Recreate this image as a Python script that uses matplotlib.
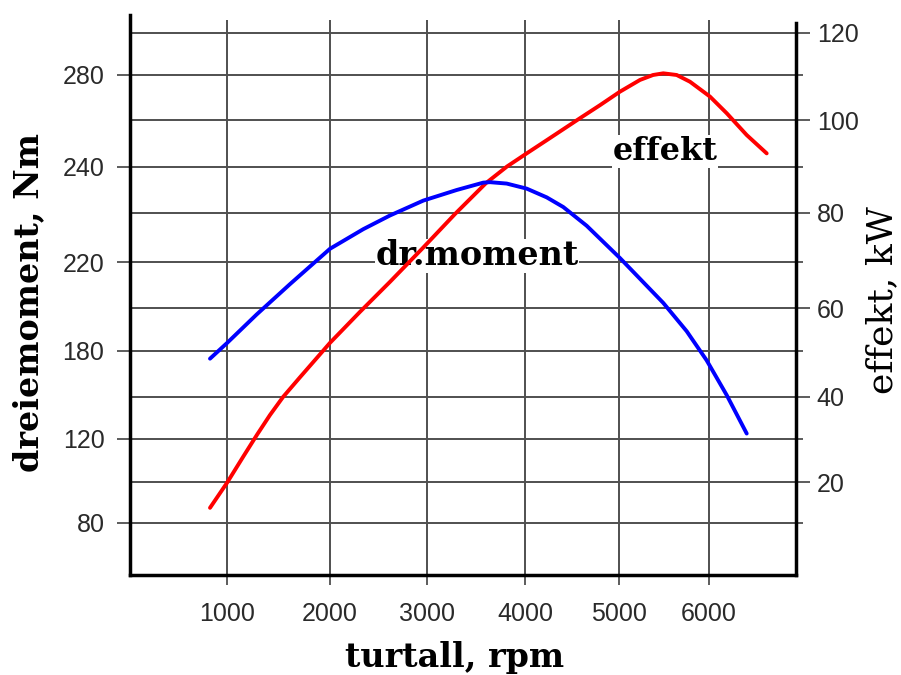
import numpy as np
import matplotlib
matplotlib.use("Agg")
import matplotlib.pyplot as plt

plt.rcParams["font.family"] = ["Liberation Sans", "DejaVu Sans"]

# ---------------- data ----------------
rpm_torque = [835, 1000, 1288, 1612, 2000, 2343, 2619, 2962, 3303, 3574, 3643,
              3813, 4018, 4231, 4407, 4656, 5011, 5233, 5492, 5752, 5974,
              6197, 6419]
torque_nm = [175.0, 183.7, 197.0, 210.4, 222.7, 226.7, 229.5, 232.7, 235.0,
             236.6, 236.7, 236.4, 235.3, 233.4, 231.3, 227.4, 220.8, 212.7,
             202.2, 189.2, 173.9, 151.2, 123.9]

rpm_power = [835, 1000, 1155, 1291, 1417, 1544, 1709, 2000, 2309, 2619, 2959,
             3286, 3602, 3816, 4018, 4231, 4585, 4798, 5011, 5233, 5378, 5492,
             5641, 5789, 6011, 6197, 6419, 6641]
power_kw = [13.7, 19.8, 25.8, 31.0, 35.7, 40.0, 44.3, 51.9, 59.1, 65.7, 72.9,
            79.8, 86.5, 90.1, 92.9, 95.7, 100.4, 103.3, 106.3, 108.9, 110.0,
            110.4, 110.0, 108.5, 105.2, 101.5, 96.8, 92.9]

rpm_ticks = [1000, 2000, 3000, 4000, 5000, 6000]
kw_ticks = [20, 40, 60, 80, 100, 120]
kw_minor = [10, 30, 50, 70, 90, 110]
nm_ticks = [80, 120, 180, 220, 240, 280]
nm_rows_kw = [10, 30, 50, 70, 90, 110]       # grid row each Nm label sits on

# ---------------- layout (pixel calibration of the drawing) ----------------
W, H = 901, 675
L, R, B, T = 130, 796, 575, 20
X_GRID_PX = [227, 330, 427, 525, 619, 709]
KW_ROWS = [120, 110, 100, 90, 80, 70, 60, 50, 40, 30, 20, 10]
Y_ROWS_PX = [33, 75, 120, 167, 213, 262, 308, 351, 397, 439, 482, 523]

GRID = "#4f4f4f"
TXT = "#2a2a2a"


def piecewise(xk, yk):
    xk = np.asarray(xk, float)
    yk = np.asarray(yk, float)
    o = np.argsort(xk)
    xk, yk = xk[o], yk[o]
    s0 = (yk[1] - yk[0]) / (xk[1] - xk[0])
    s1 = (yk[-1] - yk[-2]) / (xk[-1] - xk[-2])

    def f(v):
        v = np.asarray(v, float)
        out = np.interp(v, xk, yk)
        out = np.where(v < xk[0], yk[0] + (v - xk[0]) * s0, out)
        out = np.where(v > xk[-1], yk[-1] + (v - xk[-1]) * s1, out)
        return out
    return f


xfwd = piecewise(rpm_ticks, X_GRID_PX)
xinv = piecewise(X_GRID_PX, rpm_ticks)
ypx = -np.asarray(Y_ROWS_PX, float)
kwfwd = piecewise(KW_ROWS, ypx)
kwinv = piecewise(ypx, KW_ROWS)
nm2kw = piecewise(nm_ticks, nm_rows_kw)
kw2nm = piecewise(nm_rows_kw, nm_ticks)


def tfwd(v):
    return kwfwd(nm2kw(v))


def tinv(u):
    return kw2nm(kwinv(u))


fig = plt.figure(figsize=(W / 100, H / 100), dpi=100)
ax_p = fig.add_axes([L / W, (H - B) / H, (R - L) / W, (B - T) / H])
ax_t = ax_p.twinx()

ax_p.set_xscale("function", functions=(xfwd, xinv))
ax_p.set_xlim(float(xinv(L)), float(xinv(R)))
ax_p.set_yscale("function", functions=(kwfwd, kwinv))
ax_p.set_ylim(float(kwinv(-B)), float(kwinv(-T)))
ax_t.set_yscale("function", functions=(tfwd, tinv))
ax_t.set_ylim(float(tinv(-B)), float(tinv(-T)))

ax_p.set_xticks(rpm_ticks, labels=[str(v) for v in rpm_ticks])
ax_p.set_yticks(kw_ticks, labels=[str(v) for v in kw_ticks])
ax_p.set_yticks(kw_minor, minor=True)
ax_p.set_xticks([], minor=True)
ax_t.set_yticks(nm_ticks, labels=[str(v) for v in nm_ticks])
ax_t.set_yticks([], minor=True)

ax_p.yaxis.tick_right()
ax_p.tick_params(axis="x", which="major", length=7.2, width=1.3, color=GRID, pad=12,
                 labelsize=18, labelcolor=TXT)
ax_p.tick_params(axis="y", which="major", length=10, width=1.3, color=GRID, pad=5,
                 right=True, left=False, labelright=True, labelleft=False,
                 labelsize=18, labelcolor=TXT)
ax_p.tick_params(axis="y", which="minor", length=5, width=1.3, color=GRID,
                 right=True, left=False)
ax_t.yaxis.tick_left()
ax_t.tick_params(axis="y", which="major", length=9.4, width=1.3, color=GRID, pad=9,
                 left=True, right=False, labelleft=True, labelright=False,
                 labelsize=18, labelcolor=TXT)

ax_p.set_axisbelow(True)
ax_p.grid(True, which="major", axis="x", color=GRID, lw=1.4)
ax_p.grid(True, which="both", axis="y", color=GRID, lw=1.4)

for s in ("top", "left"):
    ax_p.spines[s].set_visible(False)
for s in ("top", "right", "bottom"):
    ax_t.spines[s].set_visible(False)
ax_p.spines["bottom"].set_linewidth(2.5)
ax_p.spines["right"].set_linewidth(2.5)
ax_t.spines["left"].set_linewidth(2.5)
ax_p.spines["right"].set_bounds(float(kwinv(-B)), float(kwinv(-23)))
ax_t.spines["left"].set_bounds(float(tinv(-B)), float(tinv(-15)))

ax_p.plot(rpm_power, power_kw, color="#ff0000", lw=2.8, zorder=3,
          solid_capstyle="round", solid_joinstyle="round")
ax_t.plot(rpm_torque, torque_nm, color="#0000ff", lw=2.8, zorder=3,
          solid_capstyle="round", solid_joinstyle="round")

ann = dict(family="DejaVu Serif", weight="bold", color="black", zorder=2.5,
           bbox=dict(facecolor="white", edgecolor="none", pad=0.5))
ax_p.text(5511, 91.5, "effekt", ha="center", va="baseline", size=23, **ann)
ax_p.text(3510, 69.3, "dr.moment", ha="center", va="baseline", size=24, **ann)

fig.text(455 / W, 1 - 667 / H, "turtall, rpm", ha="center", va="baseline",
         family="DejaVu Serif", weight="bold", size=24)
fig.text(29 / W, 1 - 303 / H, "dreiemoment, Nm", rotation=90, ha="center",
         va="center", family="DejaVu Serif", weight="bold", size=24)
fig.text(882 / W, 1 - 300 / H, "effekt, kW", rotation=90, ha="center",
         va="center", family="DejaVu Serif", size=26)

fig.savefig("out.png", dpi=100)
